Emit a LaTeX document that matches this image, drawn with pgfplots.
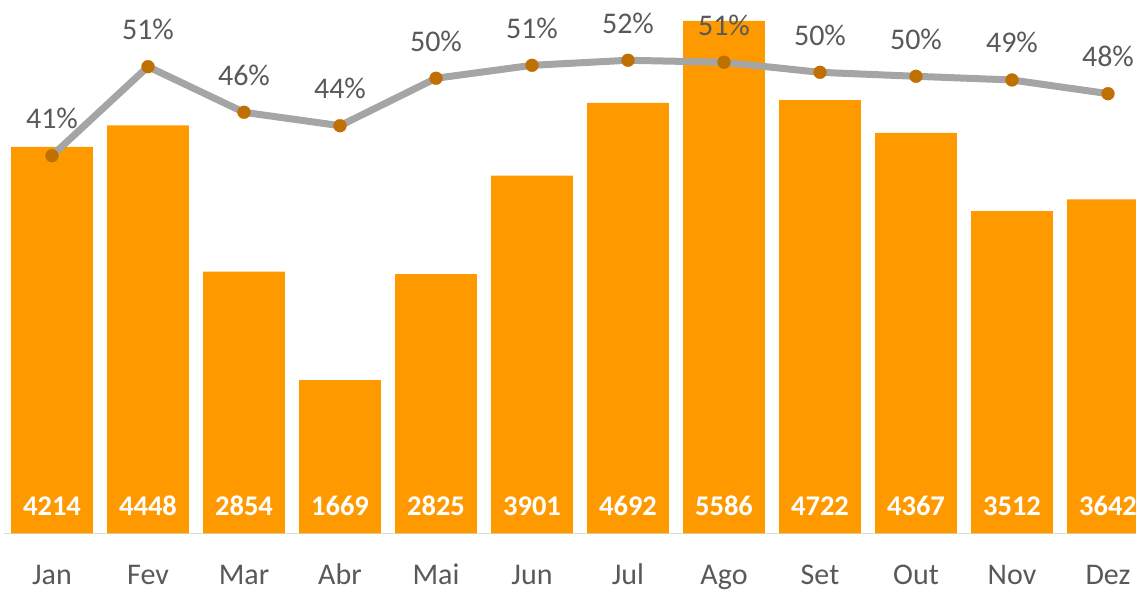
\documentclass[border=0pt]{standalone}
\usepackage{fontspec}
\setmainfont{Carlito}
\usepackage{pgfplots}
\usepackage{pgfplotstable}
\pgfplotsset{compat=1.18}

\definecolor{barorange}{HTML}{FF9900}
\definecolor{dotbrown}{HTML}{C07000}
\definecolor{linegray}{HTML}{A5A5A5}
\definecolor{txtgray}{HTML}{595959}
\definecolor{axgray}{HTML}{D9D9D9}

% month index, name, sales, share (%)
\pgfplotstableread{
x mes vendas pct
0  Jan 4214 40.98
1  Fev 4448 50.87
2  Mar 2854 45.80
3  Abr 1669 44.31
4  Mai 2825 49.58
5  Jun 3901 51.02
6  Jul 4692 51.58
7  Ago 5586 51.36
8  Set 4722 50.24
9  Out 4367 49.80
10 Nov 3512 49.39
11 Dez 3642 47.87
}\dados

\begin{document}
\begin{tikzpicture}
\pgfplotsset{base/.style={
    width=1132pt, height=533.3pt, scale only axis,
    xmin=-0.5, xmax=11.2917,
    at={(0,0)}, anchor=south west}}

\begin{axis}[base,
    ymin=0, ymax=5815,
    axis y line=none,
    axis x line*=bottom,
    x axis line style={axgray, line width=1.5pt, -},
    xtick={0,...,11},
    xticklabels={Jan,Fev,Mar,Abr,Mai,Jun,Jul,Ago,Set,Out,Nov,Dez},
    ytick=\empty,
    major tick length=0pt,
    x tick label style={font=\fontsize{30}{30}\selectfont, text=txtgray,
        anchor=base, yshift=-51pt},
]
\addplot[ybar, bar width=0.854, bar shift=0pt, fill=barorange, draw=none]
    table[x=x, y=vendas] {\dados};
\addplot[draw=none, nodes near coords, point meta=explicit symbolic,
    every node near coord/.append style={anchor=base, yshift=18.3pt,
        text=white, font=\bfseries\fontsize{28.5}{28.5}\selectfont}]
    table[x=x, y expr=0, meta=vendas] {\dados};
\end{axis}

\begin{axis}[base,
    ymin=-0.978, ymax=58.278,
    hide axis, clip=false,
    /pgf/number format/assume math mode=true,
]
\addplot[draw=linegray, line width=7pt, line join=round,
    mark=*, mark size=6.5pt,
    mark options={draw=dotbrown, fill=dotbrown, line width=0.2pt},
    nodes near coords={\pgfmathprintnumber[fixed, precision=0]{\pgfplotspointmeta}\%},
    every node near coord/.append style={anchor=base, yshift=27pt,
        text=txtgray, font=\fontsize{30}{30}\selectfont}]
    table[x=x, y=pct] {\dados};
\end{axis}

\pgfresetboundingbox
\useasboundingbox (-4pt,-56.7pt) rectangle (1132pt,533.3pt);
\end{tikzpicture}
\end{document}
